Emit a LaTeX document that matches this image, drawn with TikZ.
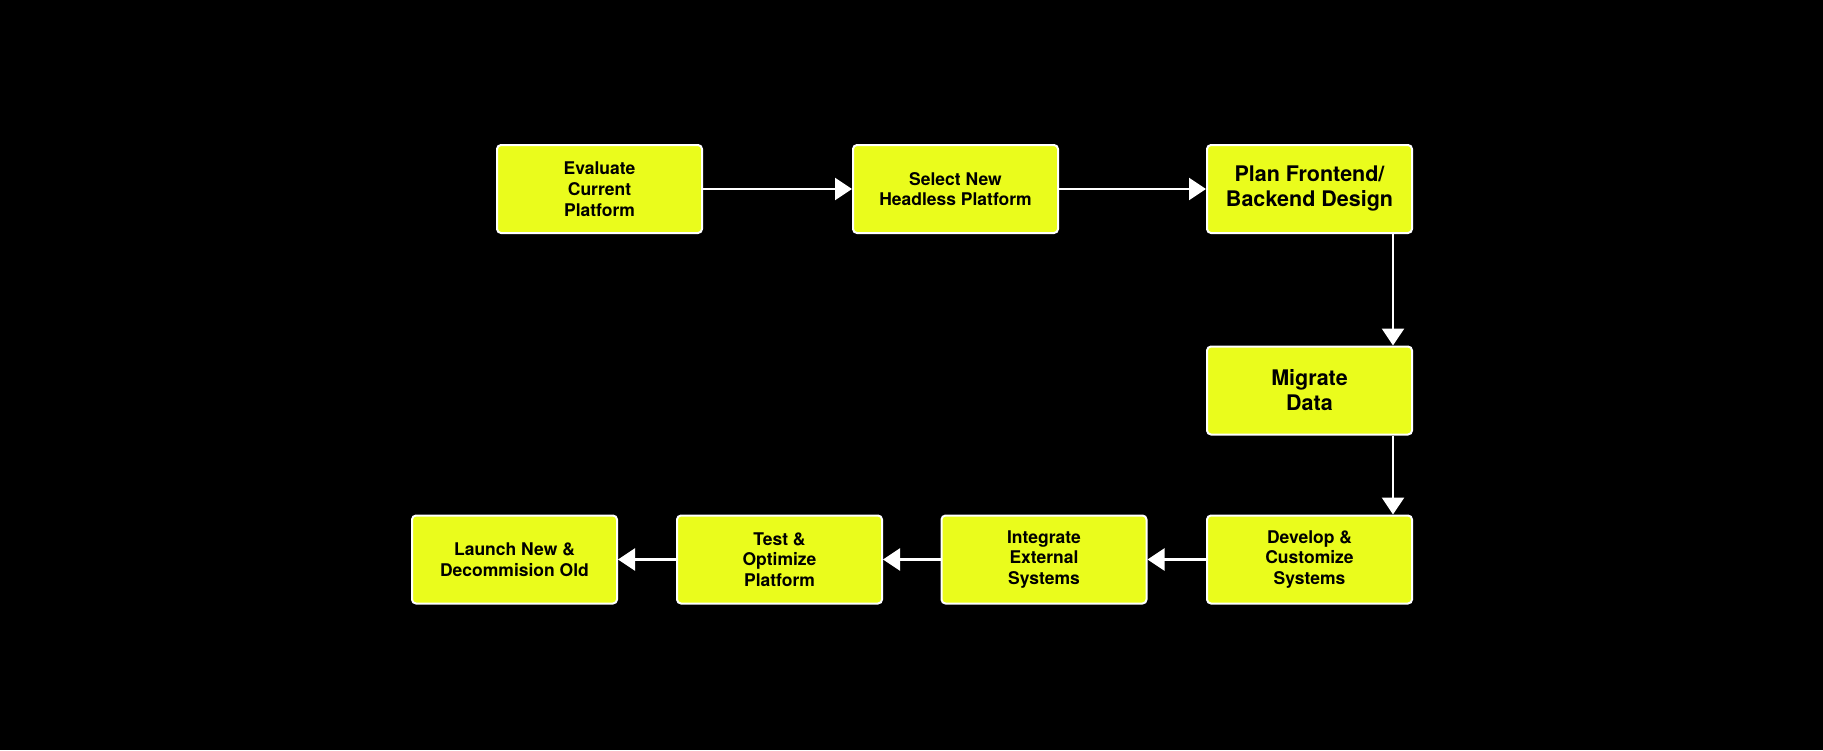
\documentclass[tikz,border=0pt]{standalone}
\usepackage{fontspec}
\setmainfont{TeX Gyre Heros}
\usetikzlibrary{arrows.meta}
\definecolor{lime}{HTML}{EAFC1C}
\begin{document}
\begin{tikzpicture}[x=1pt,y=-1pt,
  stepbox/.style={draw=white, line width=2pt, fill=lime, rounded corners=4pt,
    minimum width=205pt, minimum height=88pt, align=center, inner sep=0pt,
    font=\fontsize{17.5}{20.7}\selectfont\bfseries, text=black},
  bigbox/.style={stepbox, font=\fontsize{21.5}{25}\selectfont\bfseries},
  arr/.style={draw=white, line width=2.5pt, -{Triangle[length=17pt,width=22pt]}}]
\fill[black] (0,0) rectangle (1823,750);
\useasboundingbox (0,0) rectangle (1823,750);
\node[stepbox] (ev) at (599.5,189) {Evaluate\\Current\\Platform};
\node[stepbox] (se) at (955.5,189) {Select New\\Headless Platform};
\node[bigbox] (pl) at (1309.5,189) {Plan Frontend/\\Backend Design};
\node[bigbox] (mi) at (1309.5,390.5) {Migrate\\Data};
\node[stepbox] (de) at (1309.5,559.5) {Develop \&\\Customize\\Systems};
\node[stepbox] (in) at (1044,559.5) {Integrate\\External\\Systems};
\node[stepbox] (te) at (779.5,559.5) {Test \&\\Optimize\\Platform};
\node[stepbox] (la) at (514.5,559.5) {Launch New \&\\Decommision Old};
\draw[arr] (ev) -- (se);
\draw[arr] (se) -- (pl);
\draw[arr] ([xshift=83.5pt]pl.south) -- ([xshift=83.5pt]mi.north);
\draw[arr] ([xshift=83.5pt]mi.south) -- ([xshift=83.5pt]de.north);
\draw[arr] (de) -- (in);
\draw[arr] (in) -- (te);
\draw[arr] (te) -- (la);
\end{tikzpicture}
\end{document}
